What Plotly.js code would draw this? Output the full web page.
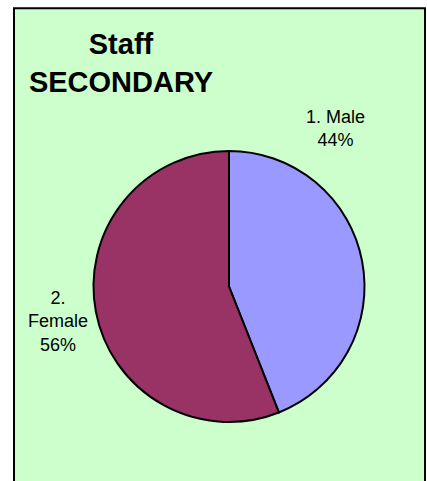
<!DOCTYPE html>
<html><head><meta charset="utf-8">
<script src="https://cdn.plot.ly/plotly-3.0.1.min.js"></script>
<style>html,body{margin:0;padding:0;background:#fff;}#chart{width:427px;height:481px;}</style>
</head><body><div id="chart"></div>
<script>
const categories = ['1. Male', '2.<br>Female'];
const values = [44, 56];
const colors = ['#9999FF', '#993366'];
const titleText = 'Staff<br>SECONDARY';

const W = 427, H = 481;
const px = x => x / W;
const py = y => 1 - y / H;
const total = values.reduce((a, b) => a + b, 0);
const pct = values.map(v => Math.round(v / total * 100) + '%');

const labelPos = [[335, 129], [58, 321]];
const annotations = categories.map((c, i) => ({
  xref: 'paper', yref: 'paper', x: px(labelPos[i][0]), y: py(labelPos[i][1]),
  xanchor: 'center', yanchor: 'middle', align: 'center', showarrow: false,
  text: c + '<br>' + pct[i],
  font: {family: 'Liberation Sans, Arial, sans-serif', size: 18, color: '#000'}
}));

const trace = {
  type: 'pie', labels: categories, values: values, sort: false,
  direction: 'clockwise', rotation: 0, textinfo: 'none', hoverinfo: 'none',
  marker: {colors: colors, line: {color: '#000', width: 2}},
  domain: {x: [px(93.5), px(364.5)], y: [py(422), py(151)]},
  showlegend: false
};

const layout = {
  width: W, height: H, margin: {l: 0, r: 0, t: 0, b: 0},
  paper_bgcolor: '#fff', plot_bgcolor: '#fff', showlegend: false,
  title: {text: titleText, x: px(121), xanchor: 'center', y: py(54), yanchor: 'top',
          xref: 'paper', yref: 'paper',
          font: {family: 'Liberation Sans, Arial, sans-serif', size: 29, color: '#000', weight: 'bold'}},
  shapes: [{type: 'rect', xref: 'paper', yref: 'paper', x0: px(14), x1: px(425), y0: -0.05, y1: py(8.3),
            fillcolor: '#CCFFCC', line: {color: '#000', width: 2}, layer: 'below'}],
  annotations: annotations
};

Plotly.newPlot('chart', [trace], layout, {displayModeBar: false, staticPlot: true});
</script></body></html>
